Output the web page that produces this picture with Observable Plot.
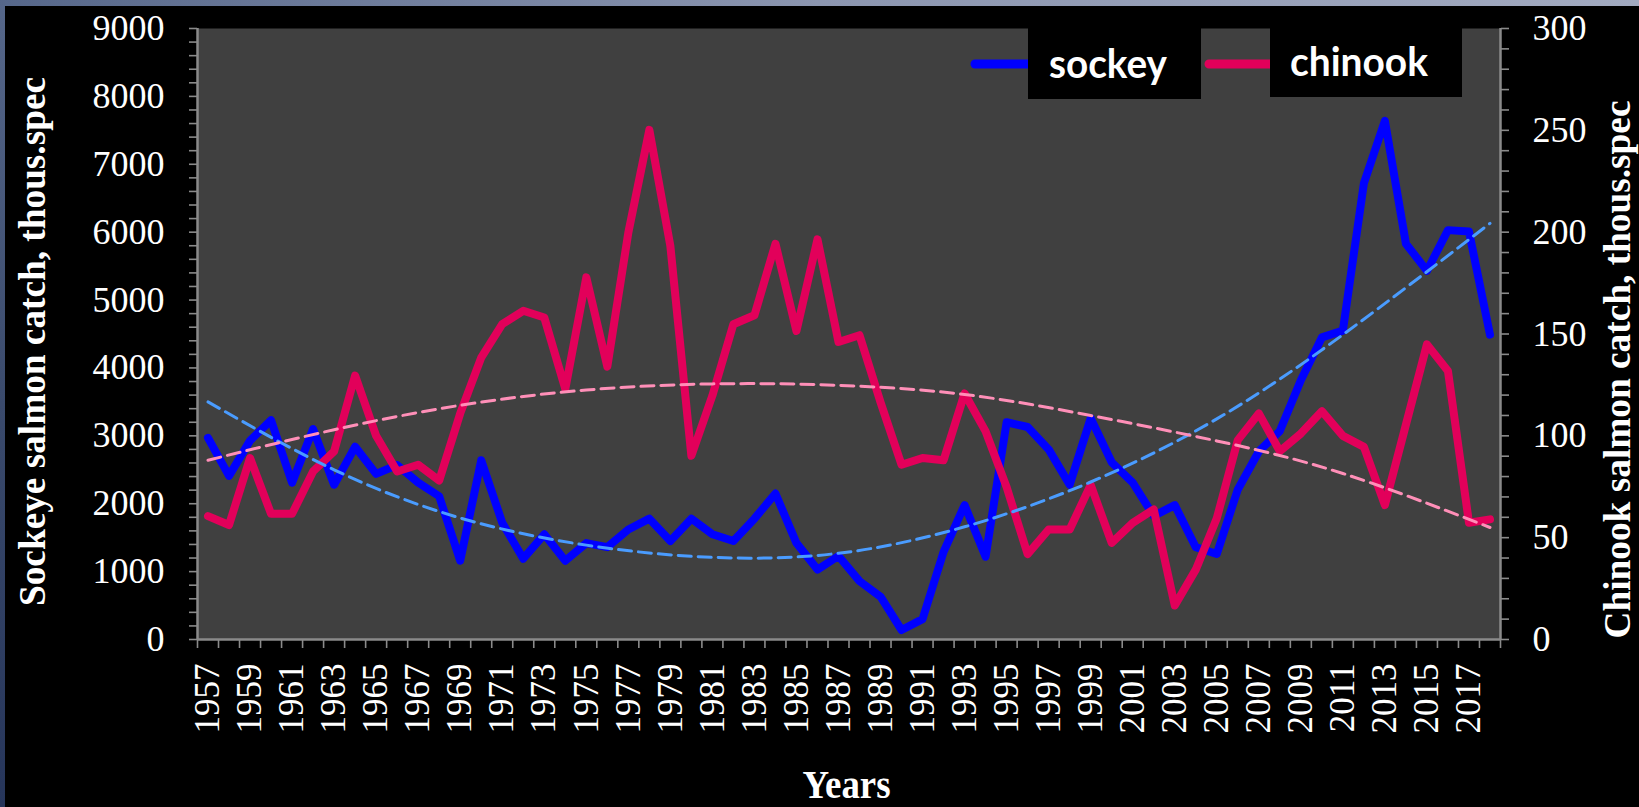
<!DOCTYPE html>
<html>
<head>
<meta charset="utf-8">
<script src="https://cdn.jsdelivr.net/npm/d3@7"></script>
<script src="https://cdn.jsdelivr.net/npm/@observablehq/plot@0.6"></script>
<style>
  html, body { margin: 0; padding: 0; }
  body { width: 1639px; height: 807px; overflow: hidden; background: #000; position: relative; }
  #topstrip { position: absolute; left: 0; top: 0; width: 1639px; height: 6px; background: linear-gradient(to right, #56678a, #8c96b0 50%, #a2aac0); }
  #leftstrip { position: absolute; left: 0; top: 0; width: 5px; height: 807px; background: linear-gradient(#56678a, #3a4a6c 50%, #26355a); }
  #chart { position: absolute; left: 0; top: 0; }
</style>
</head>
<body>
<div id="topstrip"></div>
<div id="leftstrip"></div>
<div id="chart"></div>
<script>
// ---- data ----
const years = [1957,1958,1959,1960,1961,1962,1963,1964,1965,1966,1967,1968,1969,1970,1971,1972,1973,1974,1975,1976,
  1977,1978,1979,1980,1981,1982,1983,1984,1985,1986,1987,1988,1989,1990,1991,1992,1993,1994,1995,1996,
  1997,1998,1999,2000,2001,2002,2003,2004,2005,2006,2007,2008,2009,2010,2011,2012,2013,2014,2015,2016,2017,2018];
const sockeye = [2970,2410,2930,3230,2310,3100,2280,2840,2440,2570,2310,2110,1160,2640,1720,1190,1550,1160,1420,1360,
  1620,1780,1450,1780,1550,1450,1780,2150,1420,1030,1230,860,630,140,300,1290,1980,1220,3200,3130,
  2800,2280,3260,2610,2310,1820,1980,1360,1260,2210,2770,3070,3820,4450,4550,6720,7640,5830,5430,6030,6010,4490];
const chinook = [60.6,56.2,89.1,61.7,61.7,82.5,92.4,129.6,100,82.5,85.8,78.1,111,138.4,154.8,161.4,158.1,123,177.8,134,
  199.8,250.2,193.2,90.2,119.8,154.8,159.2,194.3,151.5,196.5,146.1,149.4,116.5,85.8,89.1,88,120.8,102.2,74.8,41.9,
  54,54,75.9,47.4,57.3,63.9,16.7,34.3,59.5,97.9,111,92.4,101.1,112.1,100,94.6,66,105.5,144.9,131.8,57.3,59];
// trend lines
const trendYears = [1957,1963,1969,1975,1981,1987,1993,1999,2005,2011,2018];
const sockeyeTrend = [3500,2500,1790,1390,1210,1270,1660,2320,3250,4490,6130];
const chinookTrend = [88,103,115,122.5,125.5,124.8,120.3,110,97.5,81.5,55];
// axes
const leftTicks = [0,1000,2000,3000,4000,5000,6000,7000,8000,9000];
const rightTicks = [0,50,100,150,200,250,300];
const xTickLabels = [1957,1959,1961,1963,1965,1967,1969,1971,1973,1975,1977,1979,1981,1983,1985,1987,1989,1991,1993,
  1995,1997,1999,2001,2003,2005,2007,2009,2011,2013,2015,2017];
const seriesNames = ["sockey", "chinook"];
const leftTitle = "Sockeye salmon catch, thous.spec";
const rightTitle = "Chinook salmon catch, thous.spec";
const xTitle = "Years";

// ---- derived tables ----
const leftMax = leftTicks[leftTicks.length - 1];
const rightMax = rightTicks[rightTicks.length - 1];
const ratio = leftMax / rightMax;
const rows = years.map((year, i) => ({year, sockeye: sockeye[i], chinook: chinook[i] * ratio}));
const trendRows = trendYears.map((year, i) => ({year, s: sockeyeTrend[i], c: chinookTrend[i] * ratio}));
const leftMinor = d3.range(0, leftMax + 1, (leftTicks[1] - leftTicks[0]) / 5);
const rightMinor = d3.range(0, rightMax + 1, (rightTicks[1] - rightTicks[0]) / 5).map(v => v * ratio);
const xBounds = years.map(y => y - 0.5).concat([years[years.length - 1] + 0.5]);

const axisGray = "#8a8a8a";
const serif = "'Liberation Serif', 'Times New Roman', serif";
const W = 1639, H = 807;
const mL = 197, mR = 139, mT = 28, mB = 168;

const plot = Plot.plot({
  width: W, height: H,
  marginLeft: mL, marginRight: mR, marginTop: mT, marginBottom: mB,
  style: {background: "transparent", color: "white", fontFamily: serif},
  x: {type: "linear", domain: [xBounds[0], xBounds[xBounds.length - 1]]},
  y: {domain: [0, leftMax]},
  marks: [
    Plot.frame({fill: "#404040", stroke: null}),
    // left axis
    Plot.axisY({ticks: leftMinor, tickSize: 8, tickPadding: 25, stroke: axisGray, strokeWidth: 1.6,
      fill: "white", fontSize: 36, label: null,
      tickFormat: d => (leftTicks.includes(d) ? String(d) : "")}),
    // right axis
    Plot.axisY({anchor: "right", ticks: rightMinor, tickSize: 8, tickPadding: 24, stroke: axisGray, strokeWidth: 1.6,
      fill: "white", fontSize: 36, label: null,
      tickFormat: d => (rightTicks.includes(Math.round(d / ratio)) ? String(Math.round(d / ratio)) : "")}),
    // x ticks at year boundaries
    Plot.axisX({ticks: xBounds, tickSize: 9, stroke: axisGray, strokeWidth: 1.6, tickFormat: () => "", label: null}),
    // x labels
    Plot.axisX({ticks: xTickLabels, tickSize: 0, tickPadding: 24, tickRotate: -90, fontSize: 35,
      fill: "white", tickFormat: d => String(d), label: null}),
    // axis lines
    Plot.ruleX([xBounds[0], xBounds[xBounds.length - 1]], {stroke: axisGray, strokeWidth: 2.5}),
    Plot.ruleY([0], {stroke: axisGray, strokeWidth: 2.5}),
    // series
    Plot.line(rows, {x: "year", y: "sockeye", stroke: "#0000ff", strokeWidth: 8,
      strokeLinejoin: "round", strokeLinecap: "round"}),
    Plot.line(rows, {x: "year", y: "chinook", stroke: "#e2005a", strokeWidth: 8,
      strokeLinejoin: "round", strokeLinecap: "round"}),
    // trend lines
    Plot.line(trendRows, {x: "year", y: "s", curve: "natural", stroke: "#4a9cff", strokeWidth: 3,
      strokeDasharray: "13,7"}),
    Plot.line(trendRows, {x: "year", y: "c", curve: "natural", stroke: "#ff8fb8", strokeWidth: 3,
      strokeDasharray: "13,7"})
  ]
});

document.getElementById("chart").appendChild(plot);

// ---- titles ----
const svg = d3.select(plot);
const plotCenterY = (mT + (H - mB)) / 2;
svg.append("text")
  .attr("transform", `translate(32,${plotCenterY + 8}) rotate(-90)`)
  .attr("text-anchor", "middle").attr("dominant-baseline", "central")
  .attr("fill", "white").attr("font-family", serif).attr("font-weight", "bold").attr("font-size", 37)
  .attr("textLength", 529).attr("lengthAdjust", "spacingAndGlyphs")
  .text(leftTitle);
svg.append("text")
  .attr("transform", `translate(${W - 22},${plotCenterY + 36}) rotate(-90)`)
  .attr("text-anchor", "middle").attr("dominant-baseline", "central")
  .attr("fill", "white").attr("font-family", serif).attr("font-weight", "bold").attr("font-size", 37)
  .attr("textLength", 538).attr("lengthAdjust", "spacingAndGlyphs")
  .text(rightTitle);
svg.append("text")
  .attr("x", (mL + (W - mR)) / 2 - 2).attr("y", 798)
  .attr("text-anchor", "middle")
  .attr("fill", "white").attr("font-family", serif).attr("font-weight", "bold").attr("font-size", 40)
  .attr("textLength", 88).attr("lengthAdjust", "spacingAndGlyphs")
  .text(xTitle);

// ---- legend (inside plot, top right) ----
const sans = "Lato, 'Open Sans', 'DejaVu Sans', sans-serif";
const legendItems = [
  {name: seriesNames[0], color: "#0000ff", lineX1: 975, boxX: 1028, boxW: 173, boxH: 71, textX: 1049, baseline: 78, len: 118},
  {name: seriesNames[1], color: "#e2005a", lineX1: 1209, boxX: 1270, boxW: 192, boxH: 69, textX: 1290, baseline: 76, len: 138}
];
const lg = svg.append("g");
for (const it of legendItems) {
  lg.append("line").attr("x1", it.lineX1).attr("x2", it.boxX).attr("y1", 64).attr("y2", 64)
    .attr("stroke", it.color).attr("stroke-width", 9).attr("stroke-linecap", "round");
  lg.append("rect").attr("x", it.boxX).attr("y", mT).attr("width", it.boxW).attr("height", it.boxH).attr("fill", "#000");
  lg.append("text").attr("x", it.textX).attr("y", it.baseline)
    .attr("text-anchor", "start")
    .attr("fill", "white").attr("font-family", sans).attr("font-weight", "bold").attr("font-size", 40)
    .attr("textLength", it.len).attr("lengthAdjust", "spacingAndGlyphs")
    .text(it.name);
}
</script>
</body>
</html>
